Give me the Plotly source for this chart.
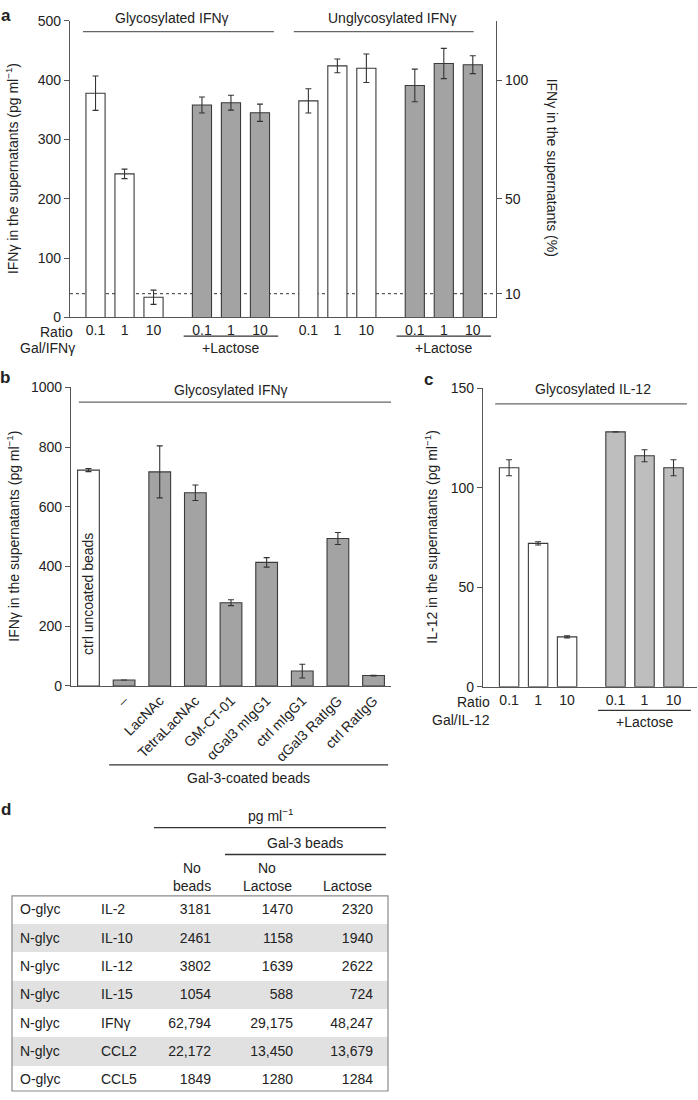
import plotly.graph_objects as go

W, H = 698, 1100
FONT = "Liberation Sans, Arial, Helvetica, sans-serif"
TXT = "#222222"
AXC = "#555555"
EDGE = "#3a3a3a"
WHITE = "#ffffff"
GRAY = "#a3a3a3"
GRAY_C = "#bebebe"
ERRC = "#333333"

# ---------------- panel a data ----------------
ratio_labels = ["0.1", "1", "10"]
glyc_ctrl = [378, 242, 34]
glyc_ctrl_err = [29, 8, 12]
glyc_lac = [358, 362, 345]
glyc_lac_err = [13.5, 12.5, 14.5]
unglyc_ctrl = [365, 424, 420]
unglyc_ctrl_err = [20.5, 11.5, 24]
unglyc_lac = [391, 428, 426]
unglyc_lac_err = [27.5, 25.5, 15]
a_threshold = 40
a_pct_ticks = [10, 50, 100]

# ---------------- panel b data ----------------
b_labels = ["ctrl uncoated beads", "–", "LacNAc", "TetraLacNAc", "GM-CT-01",
            "αGal3 mIgG1", "ctrl mIgG1", "αGal3 RatIgG", "ctrl RatIgG"]
b_values = [723, 20, 717, 647, 279, 414, 50, 494, 35]
b_err = [5, None, 87, 26, 10, 16, 23, 20, 1]

# ---------------- panel c data ----------------
c_ctrl = [110, 72, 25]
c_ctrl_err = [4, 0.8, 0.5]
c_lac = [128, 116, 110]
c_lac_err = [None, 3, 4]

# ---------------- panel d data ----------------
d_glyc = ["O-glyc", "N-glyc", "N-glyc", "N-glyc", "N-glyc", "N-glyc", "O-glyc"]
d_cytokine = ["IL-2", "IL-10", "IL-12", "IL-15", "IFNγ", "CCL2", "CCL5"]
d_no_beads = [3181, 2461, 3802, 1054, 62794, 22172, 1849]
d_no_lactose = [1470, 1158, 1639, 588, 29175, 13450, 1280]
d_lactose = [2320, 1940, 2622, 724, 48247, 13679, 1284]


def px(x):
    return x / W


def py(y):
    return 1 - y / H


GROUP_STEP = 3.67  # distance between first bars of consecutive groups


def group_pos(g, n=3):
    return [g * GROUP_STEP + i for i in range(n)]


def fmt(v):
    return f"{v:,}" if v >= 10000 else str(v)


fig = go.Figure()


def add_bars(x, y, err, color, xa, ya, width):
    fig.add_trace(go.Bar(
        x=x, y=y, width=width, xaxis=xa, yaxis=ya,
        marker=dict(color=color, line=dict(color=EDGE, width=1.1)),
        error_y=dict(type="data", array=err, visible=True, thickness=1.1,
                     width=3, color=ERRC),
        showlegend=False, hoverinfo="skip"))


# panel a
a_groups = [(glyc_ctrl, glyc_ctrl_err, WHITE), (glyc_lac, glyc_lac_err, GRAY),
            (unglyc_ctrl, unglyc_ctrl_err, WHITE), (unglyc_lac, unglyc_lac_err, GRAY)]
a_tickvals, a_ticktext = [], []
for g, (vals, errs, col) in enumerate(a_groups):
    pos = group_pos(g)
    add_bars(pos, vals, errs, col, "x", "y", 0.66)
    a_tickvals += pos
    a_ticktext += ratio_labels
# empty trace so that the percentage axis (right) is drawn
fig.add_trace(go.Scatter(x=[], y=[], xaxis="x", yaxis="y2", mode="lines",
                         showlegend=False, hoverinfo="skip"))

# panel b
b_pos = list(range(len(b_values)))
add_bars(b_pos[:1], b_values[:1], b_err[:1], WHITE, "x2", "y3", 0.61)
add_bars(b_pos[1:], b_values[1:], b_err[1:], GRAY, "x2", "y3", 0.61)

# panel c
c_tickvals, c_ticktext = [], []
for g, (vals, errs, col) in enumerate([(c_ctrl, c_ctrl_err, WHITE), (c_lac, c_lac_err, GRAY_C)]):
    pos = group_pos(g)
    add_bars(pos, vals, errs, col, "x3", "y4", 0.67)
    c_tickvals += pos
    c_ticktext += ratio_labels

# panel d table (first data row drawn as the table "header" row, same style)
row_fill = [WHITE if i % 2 == 0 else "#e1e1e1" for i in range(len(d_glyc))]
cols = [d_glyc, d_cytokine, [fmt(v) for v in d_no_beads],
        [fmt(v) for v in d_no_lactose], [fmt(v) for v in d_lactose],
        [" "] * len(d_glyc)]
aligns = ["left", "left", "right", "right", "right", "right"]
tfont = dict(family=FONT, size=14, color=TXT)
fig.add_trace(go.Table(
    domain=dict(x=[px(12), px(388)], y=[py(1099), py(901)]),
    columnwidth=[81, 57, 69, 82, 80, 7],
    header=dict(values=[c[0] for c in cols], height=28.3, align=aligns,
                fill=dict(color=row_fill[0]), line=dict(color=row_fill[0], width=0),
                font=tfont),
    cells=dict(values=[c[1:] for c in cols], height=28.3, align=aligns,
               fill=dict(color=[row_fill[1:]] * len(cols)),
               line=dict(color=[row_fill[1:]] * len(cols), width=0),
               font=tfont)))

axis_common = dict(showgrid=False, zeroline=False, showline=True,
                   linecolor=AXC, linewidth=1.2, mirror=False,
                   tickfont=dict(family=FONT, size=14, color=TXT))
yax_common = dict(axis_common, ticks="outside", ticklen=5, tickcolor=AXC,
                  tickwidth=1.1)
xax_common = dict(axis_common, ticks="")

fig.update_layout(
    width=W, height=H, margin=dict(l=0, r=0, t=0, b=0),
    paper_bgcolor="white", plot_bgcolor="white",
    barmode="overlay", showlegend=False,
    font=dict(family=FONT, size=14, color=TXT),
    xaxis=dict(xax_common, domain=[px(70), px(496)], range=[-0.88, 13.81],
               anchor="y", tickvals=a_tickvals, ticktext=a_ticktext),
    yaxis=dict(yax_common, domain=[py(314), py(13)], range=[0, 500],
               anchor="x", tickvals=[0, 100, 200, 300, 400, 500]),
    yaxis2=dict(yax_common, overlaying="y", side="right", anchor="x",
                range=[0, 125], tickvals=a_pct_ticks),
    xaxis2=dict(xax_common, domain=[px(71), px(391)], range=[-0.49, 8.49],
                anchor="y3", tickvals=b_pos[1:], ticktext=b_labels[1:],
                tickangle=-45),
    yaxis3=dict(yax_common, domain=[py(688), py(385)], range=[0, 1000],
                anchor="x2", tickvals=[0, 200, 400, 600, 800, 1000]),
    xaxis3=dict(xax_common, domain=[px(483), px(697)], range=[-0.9, 6.48],
                anchor="y4", tickvals=c_tickvals, ticktext=c_ticktext),
    yaxis4=dict(yax_common, domain=[py(688.7), py(385.7)], range=[0, 150],
                anchor="x3", tickvals=[0, 50, 100, 150]),
)

shapes = []
annots = []


def hline(xref, x0, x1, y, color="#666666", width=1.3):
    shapes.append(dict(type="line", xref=xref, yref="paper", x0=x0, x1=x1,
                       y0=py(y), y1=py(y), line=dict(color=color, width=width)))


def text(xref, x, y, s, size=14, xanchor="center", angle=0, bold=False, yref="paper"):
    annots.append(dict(xref=xref, yref=yref, x=x, y=y if yref != "paper" else py(y),
                       text=f"<b>{s}</b>" if bold else s, showarrow=False,
                       xanchor=xanchor, yanchor="middle", textangle=angle,
                       font=dict(family=FONT, size=size, color=TXT)))


# threshold line panel a
shapes.append(dict(type="line", xref="x domain", yref="y", x0=0, x1=1,
                   y0=a_threshold, y1=a_threshold, layer="below",
                   line=dict(color="#333333", width=1, dash="dot")))

# panel a group lines / labels
hline("x", -0.43, 2 + 3.67 + 0.48, 24)
text("x", 2.63, 10, "Glycosylated IFNγ")
hline("x", 2 * 3.67 - 0.5, 3 * 3.67 + 2 + 0.03, 24)
text("x", 10.22, 10, "Unglycosylated IFNγ")
for g in (1, 3):
    c = g * GROUP_STEP + 1
    hline("x", c - 1.63, c + 1.63, 333, color="#333333", width=1.3)
    text("x", c, 345, "+Lactose")
text("paper", px(75), 329, "Ratio", xanchor="right")
text("paper", px(77), 345, "Gal/IFNγ", xanchor="right")
text("paper", px(12), 163.5, "IFNγ in the supernatants (pg ml<sup>−1</sup>)", angle=-90)
text("paper", px(552), 162, "IFNγ in the supernatants (%)", angle=90)
text("paper", px(6), 8, "a", size=17, bold=True)

# panel b
hline("x2", -0.27, 8.49, 400)
text("x2", 4.0, 388, "Glycosylated IFNγ")
hline("x2", 0.58, 8.41, 768, color="#333333")
text("x2", 4.5, 781, "Gal-3-coated beads")
text("x2", 0, 310, b_labels[0], angle=-90, yref="y3")
text("paper", px(13), 536.5, "IFNγ in the supernatants (pg ml<sup>−1</sup>)", angle=-90)
text("paper", px(5), 375, "b", size=17, bold=True)

# panel c
hline("x3", -0.48, 6.13, 401.7)
text("x3", 2.9, 386.7, "Glycosylated IL-12")
hline("x3", GROUP_STEP + 1 - 1.6, GROUP_STEP + 1 + 1.6, 712.7, color="#333333")
text("x3", GROUP_STEP + 1, 725, "+Lactose")
text("paper", px(492), 704, "Ratio", xanchor="right")
text("paper", px(492), 722.5, "Gal/IL-12", xanchor="right")
text("paper", px(431.5), 537, "IL-12 in the supernatants (pg ml<sup>−1</sup>)", angle=-90)
text("paper", px(428), 377, "c", size=17, bold=True)

# panel d headers
text("paper", px(6), 813, "d", size=17, bold=True)
text("paper", px(270), 819, "pg ml<sup>−1</sup>")
hline("paper", px(154), px(386), 831.7, color="#333333")
text("paper", px(305), 847, "Gal-3 beads")
hline("paper", px(225), px(386), 859, color="#333333")
text("paper", px(192), 873, "No")
text("paper", px(192), 890.5, "beads")
text("paper", px(267), 873, "No")
text("paper", px(267), 890.5, "Lactose")
text("paper", px(347), 890.5, "Lactose")
shapes.append(dict(type="rect", xref="paper", yref="paper", x0=px(12), x1=px(388),
                   y0=py(1099), y1=py(901), line=dict(color="#8a8a8a", width=1.2)))

fig.update_layout(shapes=shapes, annotations=annots)
fig.write_html("out.html", config={"displayModeBar": False},
               post_script="document.body.style.margin='0';document.body.style.overflow='hidden';")
